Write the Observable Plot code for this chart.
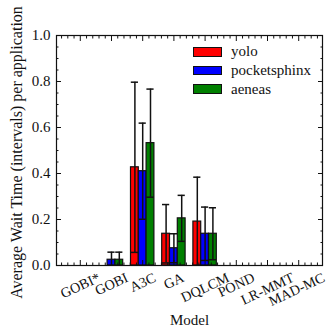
<!DOCTYPE html>
<html><head><meta charset="utf-8">
<script src="https://cdn.jsdelivr.net/npm/d3@7"></script>
<script src="https://cdn.jsdelivr.net/npm/@observablehq/plot@0.6"></script>
<style>
body{margin:0;background:#fff;}
#chart{position:relative;width:329px;height:330px;font-family:"Liberation Serif","Times New Roman","DejaVu Serif",serif;}
#legend{position:absolute;left:193px;top:42.5px;}
.item{display:flex;align-items:center;height:18.7px;}
.sw{width:27px;height:7.5px;border:1.2px solid #111;margin-right:9px;}
.lab{font-size:15px;color:#111;}
</style></head><body><div id="chart"><div id="legend"></div></div>
<script>
const models = ["GOBI*", "GOBI", "A3C", "GA", "DQLCM", "POND", "LR-MMT", "MAD-MC"];
const seriesNames = ["yolo", "pocketsphinx", "aeneas"];
const seriesColors = ["#ff0000", "#0000ff", "#008000"];
const yolo = [0, 0, 0.427, 0.138, 0.191, 0, 0, 0];
const yoloErr = [0, 0, 0.370, 0.127, 0.193, 0, 0, 0];
const pocketsphinx = [0, 0.025, 0.410, 0.075, 0.138, 0, 0, 0];
const pocketsphinxErr = [0, 0.033, 0.209, 0.063, 0.116, 0, 0, 0];
const aeneas = [0, 0.025, 0.532, 0.205, 0.138, 0, 0, 0];
const aeneasErr = [0, 0.033, 0.235, 0.100, 0.113, 0, 0, 0];
const yMajor = [0, 0.2, 0.4, 0.6, 0.8, 1.0];
const yMinor = d3.range(1, 20).filter(k => k % 4 !== 0).map(k => k * 0.05);
const xMajor = d3.range(0, 8);
const xMinor = d3.range(-3, 39).filter(k => k % 5 !== 0).map(k => k * 0.2);
const xLabel = "Model";
const yLabel = "Average Wait Time (intervals) per application";

const values = [yolo, pocketsphinx, aeneas];
const errors = [yoloErr, pocketsphinxErr, aeneasErr];
const barW = 0.25;
const rows = [];
models.forEach((m, i) => seriesNames.forEach((s, k) => {
  rows.push({model: m, i, series: s, xc: i + (k - 1) * barW, value: values[k][i], err: errors[k][i]});
}));
const errRows = rows.filter(d => d.err > 0);
const capHalf = 0.115;

const FAMILY = '"Liberation Serif", "Times New Roman", "DejaVu Serif", serif';
const FONT = 15;
const XFONT = 14.2;
const ctx = document.createElement("canvas").getContext("2d");
ctx.font = `${XFONT}px ${FAMILY}`;
const ang = 25 * Math.PI / 180;
const xTickMarks = models.map((m, i) => {
  const w = ctx.measureText(m).width;
  const dy = 7 + (w * Math.sin(ang) + 9.5 * Math.cos(ang)) / 2;
  return Plot.text([m], {x: () => i, frameAnchor: "bottom", dy, dx: i === models.length - 1 ? -2 : 0, rotate: -25, textAnchor: "middle", lineAnchor: "middle", fill: "#111", fontFamily: FAMILY, fontSize: XFONT});
});

const plot = Plot.plot({
  width: 329, height: 330,
  marginLeft: 56, marginRight: 7, marginTop: 35, marginBottom: 65,
  style: {fontFamily: FAMILY, fontSize: FONT + "px", background: "white", color: "#111"},
  x: {domain: [-0.7625, 7.7625]},
  y: {domain: [0, 1]},
  color: {domain: seriesNames, range: seriesColors},
  marks: [
    Plot.rectY(rows, {x1: d => d.xc - barW / 2, x2: d => d.xc + barW / 2, y1: 0, y2: "value", fill: "series", stroke: "#111", strokeWidth: 1.2}),
    Plot.ruleX(errRows, {x: "xc", y1: d => d.value - d.err, y2: d => d.value + d.err, stroke: "#111", strokeWidth: 1.5, clip: true}),
    Plot.ruleY(errRows, {y: d => d.value + d.err, x1: d => d.xc - capHalf, x2: d => d.xc + capHalf, stroke: "#111", strokeWidth: 1.5, clip: true}),
    Plot.ruleY(errRows, {y: d => d.value - d.err, x1: d => d.xc - capHalf, x2: d => d.xc + capHalf, stroke: "#111", strokeWidth: 1.5, clip: true}),
    Plot.axisY({anchor: "left", ticks: yMajor, tickSize: -5, tickFormat: () => "", label: null}),
    Plot.axisY({anchor: "left", ticks: yMinor, tickSize: -2.5, tickFormat: () => "", label: null}),
    Plot.axisY({anchor: "right", ticks: yMajor, tickSize: -5, tickFormat: () => "", label: null}),
    Plot.axisY({anchor: "right", ticks: yMinor, tickSize: -2.5, tickFormat: () => "", label: null}),
    Plot.axisX({anchor: "bottom", ticks: xMajor, tickSize: -5, tickFormat: () => "", label: null}),
    Plot.axisX({anchor: "bottom", ticks: xMinor, tickSize: -2.5, tickFormat: () => "", label: null}),
    Plot.axisX({anchor: "top", ticks: xMajor, tickSize: -5, tickFormat: () => "", label: null}),
    Plot.axisX({anchor: "top", ticks: xMinor, tickSize: -2.5, tickFormat: () => "", label: null}),
    Plot.axisY({anchor: "left", ticks: yMajor, tickSize: 0, tickPadding: 6, tickFormat: d3.format(".1f"), label: null, fill: "#111", fontFamily: FAMILY}),
    ...xTickMarks,
    Plot.text([xLabel], {frameAnchor: "bottom", dy: 55, textAnchor: "middle", lineAnchor: "middle", fill: "#111", fontFamily: FAMILY}),
    Plot.text([yLabel], {frameAnchor: "left", dx: -40, dy: 2, rotate: -90, textAnchor: "middle", lineAnchor: "middle", fill: "#111", fontSize: 16, fontFamily: FAMILY}),
    Plot.frame({stroke: "#111", strokeWidth: 1.2})
  ]
});
const chart = document.getElementById("chart");
chart.insertBefore(plot, chart.firstChild);
const legend = document.getElementById("legend");
seriesNames.forEach((s, k) => {
  const it = document.createElement("div"); it.className = "item";
  const sw = document.createElement("div"); sw.className = "sw"; sw.style.background = seriesColors[k];
  const lab = document.createElement("span"); lab.className = "lab"; lab.textContent = s;
  it.appendChild(sw); it.appendChild(lab); legend.appendChild(it);
});
</script>
</body></html>
